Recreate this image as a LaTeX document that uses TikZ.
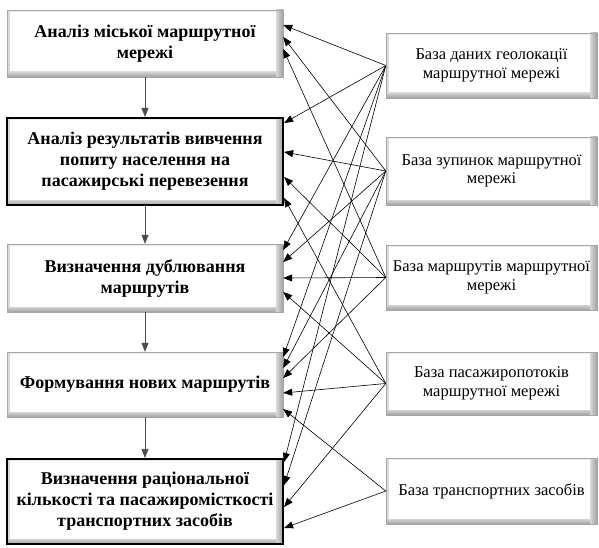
\documentclass[tikz,border=0pt]{standalone}
\usepackage{fontspec}
\setmainfont{Liberation Serif}
\usetikzlibrary{arrows.meta}
\tikzset{
	bevel/.style={path picture={
		\fill[gray!15] (path picture bounding box.north west) rectangle ([yshift=-2pt]path picture bounding box.north east);
		\fill[gray!30] (path picture bounding box.north west) rectangle ([xshift=3pt]path picture bounding box.south west);
		\shade[left color=gray!30, right color=gray!75] ([xshift=-7pt]path picture bounding box.north east) rectangle (path picture bounding box.south east);
		\shade[top color=gray!35, bottom color=gray!75] ([yshift=5pt]path picture bounding box.south west) rectangle ([xshift=-7pt]path picture bounding box.south east);
	}},
	stage/.style={bevel, draw=gray!70, fill=white, minimum width=276pt, inner sep=0pt, align=center, font=\fontsize{18}{21}\selectfont\bfseries},
	stagethick/.style={stage, draw=black, line width=2.2pt},
	base/.style={bevel, draw=gray!70, fill=white, minimum width=211pt, inner sep=0pt, align=center, font=\fontsize{16.5}{18.5}\selectfont},
	link/.style={-{Triangle[length=9pt,width=7pt]}, line width=0.6pt},
	flow/.style={-{Triangle[length=9pt,width=7pt]}, line width=0.7pt, draw=black!70}
}
\begin{document}
\begin{tikzpicture}[x=1pt, y=-1pt]
	\useasboundingbox (0,0) rectangle (599,548);
	\node[stage, minimum height=67pt] (a1) at (145,43.5) {Аналіз міської маршрутної\\мережі};
	\node[stagethick, minimum height=87pt] (a2) at (145,161.5) {Аналіз результатів вивчення\\попиту населення на\\пасажирські перевезення};
	\node[stage, minimum height=68pt] (a3) at (145,278) {Визначення дублювання\\маршрутів};
	\node[stage, minimum height=65pt] (a4) at (145,384.5) {Формування нових маршрутів};
	\node[stagethick, minimum height=85pt] (a5) at (145,501.5) {Визначення раціональної\\кількості та пасажиромісткості\\транспортних засобів};

	\node[base, minimum height=65pt] (b1) at (491.5,65.5) {База даних геолокації\\маршрутної мережі};
	\node[base, minimum height=68pt] (b2) at (491.5,171) {База зупинок маршрутної\\мережі};
	\node[base, minimum height=65pt] (b3) at (491.5,277.5) {База маршрутів маршрутної\\мережі};
	\node[base, minimum height=63pt] (b4) at (491.5,383.5) {База пасажиропотоків\\маршрутної мережі};
	\node[base, minimum height=66pt] (b5) at (491.5,491) {База транспортних засобів};

	\draw[flow] (a1) -- (a2);
	\draw[flow] (a2) -- (a3);
	\draw[flow] (a3) -- (a4);
	\draw[flow] (a4) -- (a5);

	\draw[link] (b1.west) -- (a1.east |- 0,25);
	\draw[link] (b1.west) -- (a2.east |- 0,123);
	\draw[link] (b1.west) -- (a3.east |- 0,250);
	\draw[link] (b1.west) -- (a4.east |- 0,357);
	\draw[link] (b1.west) -- (a5.east |- 0,462);
	\draw[link] (b2.west) -- (a1.east |- 0,37);
	\draw[link] (b2.west) -- (a2.east |- 0,152);
	\draw[link] (b2.west) -- (a3.east |- 0,262);
	\draw[link] (b2.west) -- (a4.east |- 0,368);
	\draw[link] (b2.west) -- (a5.east |- 0,485);
	\draw[link] (b3.west) -- (a1.east |- 0,49);
	\draw[link] (b3.west) -- (a2.east |- 0,177);
	\draw[link] (b3.west) -- (a3.east |- 0,278);
	\draw[link] (b3.west) -- (a4.east |- 0,378);
	\draw[link] (b4.west) -- (a2.east |- 0,198);
	\draw[link] (b4.west) -- (a3.east |- 0,292);
	\draw[link] (b4.west) -- (a4.east |- 0,393);
	\draw[link] (b4.west) -- (a5.east |- 0,507);
	\draw[link] (b5.west) -- (a4.east |- 0,409);
	\draw[link] (b5.west) -- (a5.east |- 0,528);
\end{tikzpicture}
\end{document}
